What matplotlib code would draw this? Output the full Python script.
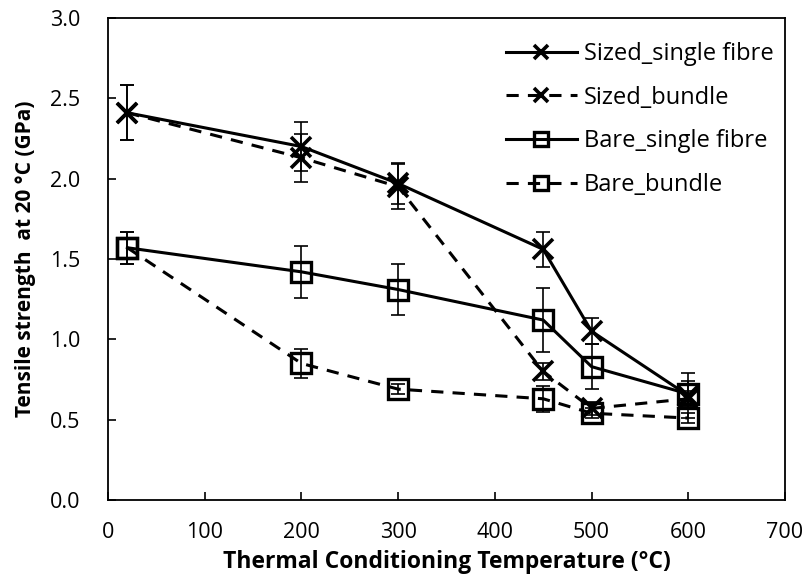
import matplotlib
matplotlib.use("Agg")
import matplotlib.pyplot as plt

plt.rcParams['font.family'] = ['Open Sans', 'DejaVu Sans']

temps = [20, 200, 300, 450, 500, 600]

sized_single = [2.41, 2.20, 1.97, 1.56, 1.05, 0.65]
sized_single_err = [0.17, 0.15, 0.13, 0.11, 0.08, 0.14]
sized_bundle = [2.41, 2.13, 1.95, 0.80, 0.57, 0.63]
sized_bundle_err = [0.17, 0.15, 0.14, 0.05, 0.04, 0.05]
bare_single = [1.57, 1.42, 1.31, 1.12, 0.83, 0.66]
bare_single_err = [0.10, 0.16, 0.16, 0.20, 0.14, 0.08]
bare_bundle = [1.57, 0.85, 0.69, 0.63, 0.54, 0.51]
bare_bundle_err = [0.10, 0.09, 0.03, 0.08, 0.03, 0.03]

series = [
    ("Sized_single fibre", sized_single, sized_single_err, 'x', '-'),
    ("Sized_bundle", sized_bundle, sized_bundle_err, 'x', '--'),
    ("Bare_single fibre", bare_single, bare_single_err, 's', '-'),
    ("Bare_bundle", bare_bundle, bare_bundle_err, 's', '--'),
]

fig = plt.figure(figsize=(8.06, 5.8), dpi=100)
ax = fig.add_axes([108 / 806, 80 / 580, 677 / 806, 482 / 580])

for label, vals, errs, marker, ls in series:
    ax.errorbar(temps, vals, yerr=errs, fmt='none', ecolor='black',
                elinewidth=1.2, capsize=5, capthick=1.2, zorder=2)
    line_kw = dict(color='black', linewidth=2.2, marker=marker,
                   markerfacecolor='none', markeredgecolor='black',
                   label=label, zorder=3)
    if marker == 'x':
        line_kw.update(markersize=14, markeredgewidth=2.6)
    else:
        line_kw.update(markersize=14, markeredgewidth=2.4)
    if ls == '--':
        line_kw.update(linestyle=(0, (4, 3)))
    ax.plot(temps, vals, **line_kw)

ax.set_xlim(0, 700)
ax.set_ylim(0, 3.0)
ax.set_xticks(range(0, 701, 100))
ax.set_yticks([0.0, 0.5, 1.0, 1.5, 2.0, 2.5, 3.0])
ax.set_yticklabels(['{:.1f}'.format(v) for v in ax.get_yticks()])
ax.tick_params(axis='both', labelsize=15.5, direction='in', length=6, width=1.2)
ax.tick_params(axis='y', pad=20)
ax.tick_params(axis='x', pad=16)
for s in ax.spines.values():
    s.set_linewidth(1.3)

ax.set_xlabel('Thermal Conditioning Temperature (°C)', fontsize=16.5,
              fontweight='bold')
ax.set_ylabel('Tensile strength  at 20 °C (GPa)', fontsize=15,
              fontweight='bold')
ax.xaxis.set_label_coords(0.5, -(562 - 500) / 482, transform=ax.transAxes)
ax.yaxis.set_label_coords(-(108 - 26) / 677, 0.5, transform=ax.transAxes)
ax.xaxis.label.set_va('center')
ax.yaxis.label.set_va('center')

leg = ax.legend(loc='upper left', frameon=False, fontsize=17,
                bbox_to_anchor=(506 / 806, 1 - 42 / 580),
                bbox_transform=fig.transFigure,
                handlelength=3.0, labelspacing=0.83, handletextpad=0.3,
                borderaxespad=0, borderpad=0, markerscale=0.7)

fig.savefig('out.png', dpi=100)
